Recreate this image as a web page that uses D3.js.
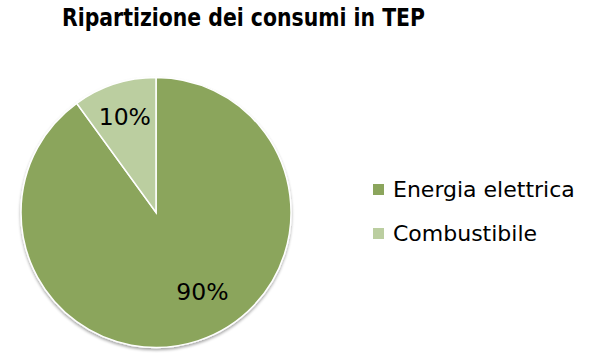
<!DOCTYPE html>
<html>
<head>
<meta charset="utf-8">
<script src="https://cdn.jsdelivr.net/npm/d3@7"></script>
<style>
  body { margin: 0; background: #fff; }
  text { font-family: "DejaVu Sans", sans-serif; }
</style>
</head>
<body>
<script>
    // data
    var categories = ["Energia elettrica", "Combustibile"];
    var values = [90, 10];
    var labels = ["90%", "10%"];
    var colors = ["#8ba55c", "#bbcea0"];

    var width = 589, height = 363;
    var cx = 156, cy = 212.5, radius = 135;

    var svg = d3.select("body").append("svg")
        .attr("width", width)
        .attr("height", height);

    var defs = svg.append("defs");
    var shadow = defs.append("filter").attr("id", "shadow")
        .attr("x", "-10%").attr("y", "-10%").attr("width", "120%").attr("height", "120%");
    shadow.append("feGaussianBlur").attr("in", "SourceAlpha").attr("stdDeviation", 1.5);
    shadow.append("feOffset").attr("dx", 0).attr("dy", 1.5).attr("result", "blur");
    shadow.append("feComponentTransfer").append("feFuncA").attr("type", "linear").attr("slope", 0.35);
    var merge = shadow.append("feMerge");
    merge.append("feMergeNode");
    merge.append("feMergeNode").attr("in", "SourceGraphic");

    // title
    svg.append("text")
        .attr("x", 62)
        .attr("y", 26)
        .attr("textLength", 363)
        .attr("lengthAdjust", "spacingAndGlyphs")
        .style("font-family", "'DejaVu Sans Condensed', 'DejaVu Sans', sans-serif")
        .style("font-size", "24.5px")
        .style("font-weight", "bold")
        .text("Ripartizione dei consumi in TEP");

    var pie = d3.pie().sort(null).value(function(d) { return d; });
    var arc = d3.arc().innerRadius(0).outerRadius(radius);
    var arcs = pie(values);

    var g = svg.append("g")
        .attr("transform", "translate(" + cx + "," + cy + ")");

    g.append("g").attr("filter", "url(#shadow)")
        .selectAll("path")
        .data(arcs)
        .enter().append("path")
        .attr("d", arc)
        .attr("fill", function(d, i) { return colors[i]; })
        .attr("stroke", "#fff")
        .attr("stroke-width", 1.5);

    // labels
    var labelArc = [d3.arc().innerRadius(95).outerRadius(95), d3.arc().innerRadius(101).outerRadius(101)];
    var nudge = [[17, -11], [0, 0]];
    g.selectAll(".lbl")
        .data(arcs)
        .enter().append("text")
        .attr("class", "lbl")
        .attr("x", function(d, i) { return labelArc[i].centroid(d)[0] + nudge[i][0]; })
        .attr("y", function(d, i) { return labelArc[i].centroid(d)[1] + nudge[i][1]; })
        .attr("dy", "0.35em")
        .attr("text-anchor", "middle")
        .style("font-size", "23.5px")
        .attr("fill", "#000")
        .text(function(d, i) { return labels[i]; });

    // legend
    var legY = d3.scalePoint().domain(categories).range([189.5, 233.5]);
    var leg = svg.append("g").selectAll("g")
        .data(categories)
        .enter().append("g")
        .attr("transform", function(d) { return "translate(373," + legY(d) + ")"; });
    leg.append("rect")
        .attr("x", 0).attr("y", -5.5)
        .attr("width", 11).attr("height", 11)
        .attr("fill", function(d, i) { return colors[i]; });
    leg.append("text")
        .attr("x", 20)
        .attr("dy", "0.35em")
        .style("font-size", "22px")
        .text(function(d) { return d; });
</script>
</body>
</html>
